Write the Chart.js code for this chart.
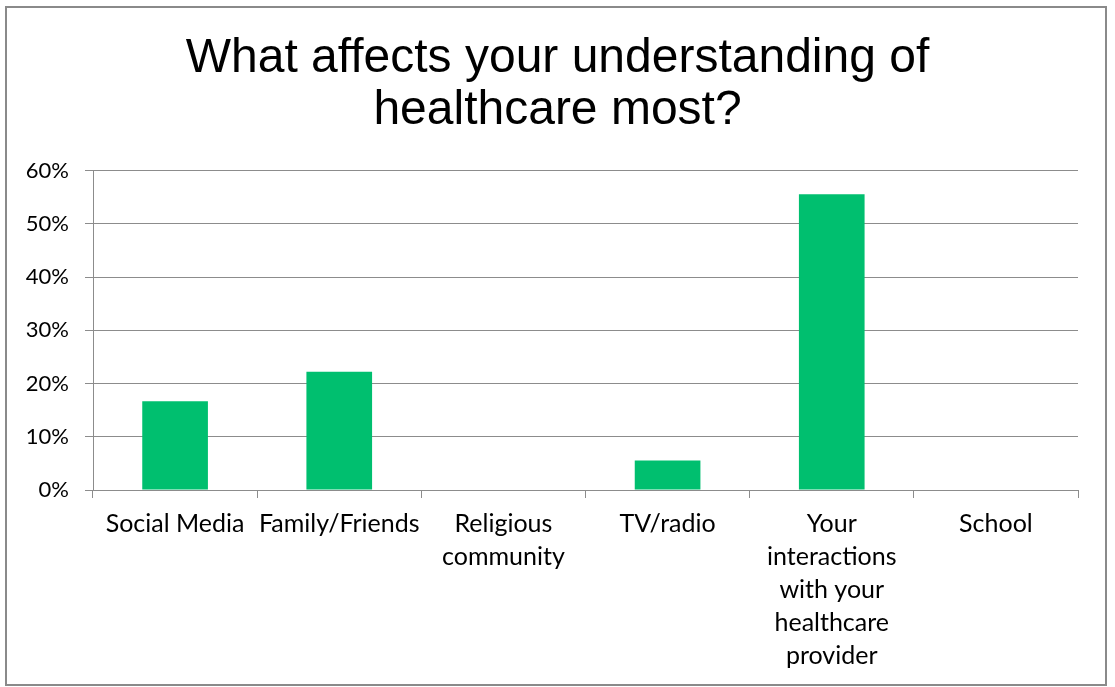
<!DOCTYPE html>
<html lang="en">
<head>
<meta charset="UTF-8">
<title>What affects your understanding of healthcare most?</title>
<style>
  html,body{margin:0;padding:0;background:#fff;}
  .wrap{width:1115px;height:687px;position:relative;}
</style>
</head>
<body>
<div class="wrap">
  <canvas id="chart" width="1115" height="687"></canvas>
</div>

<script src="https://cdn.jsdelivr.net/npm/chart.js@4.4.1"></script>
<script>
/* ---------- data ---------- */
const categories = [
  'Social Media',
  'Family/Friends',
  ['Religious', 'community'],
  'TV/radio',
  ['Your', 'interactions', 'with your', 'healthcare', 'provider'],
  'School'
];
const shares = [16.67, 22.22, 0, 5.56, 55.56, 0];   // percent of answers
const yTicks = [0, 10, 20, 30, 40, 50, 60];

const GREEN = '#00bf6f';
const GRID  = '#8c8c8c';

/* thin grey frame round the whole chart, title centred on the full width */
const framePlugin = {
  id: 'frame',
  afterLayout(chart){
    if (chart.titleBlock){
      chart.titleBlock.left = 0;
      chart.titleBlock.right = chart.width;
    }
  },
  afterDraw(chart){
    const c = chart.ctx;
    c.save();
    c.strokeStyle = '#8a8a8a';
    c.lineWidth = 2;
    c.strokeRect(6, 7, 1100, 678);
    c.restore();
  }
};

new Chart(document.getElementById('chart'), {
  type: 'bar',
  data: {
    labels: categories,
    datasets: [{
      data: shares,
      backgroundColor: GREEN,
      borderWidth: 0,
      categoryPercentage: 1,
      barPercentage: 0.4
    }]
  },
  options: {
    responsive: false,
    animation: false,
    layout: {padding: {left: 0, right: 37, top: 0, bottom: 0}},
    plugins: {
      legend: {display: false},
      tooltip: {enabled: false},
      title: {
        display: true,
        text: ['What affects your understanding of', 'healthcare most?'],
        color: '#000',
        font: {family: '"Liberation Sans", Arial, sans-serif', size: 48, weight: 'normal', lineHeight: 1.08},
        padding: {top: 33, bottom: 34}
      }
    },
    scales: {
      x: {
        grid: {display: true, drawOnChartArea: false, drawTicks: true, tickLength: 8, color: GRID, lineWidth: 1, offset: true},
        border: {display: true, color: GRID, width: 1},
        ticks: {
          color: '#000',
          padding: 9,
          maxRotation: 0,
          autoSkip: false,
          font: {family: 'Lato, "Open Sans", sans-serif', size: 25, lineHeight: 1.32}
        },
        afterFit(scale){ scale.height = 197; }
      },
      y: {
        min: 0,
        max: 60,
        afterBuildTicks(scale){ scale.ticks = yTicks.map(v => ({value: v})); },
        grid: {color: GRID, lineWidth: 1, tickLength: 8},
        border: {display: true, color: GRID, width: 1},
        ticks: {
          color: '#000',
          padding: 16,
          font: {family: 'Lato, "Open Sans", sans-serif', size: 22},
          callback: v => v + '%'
        },
        afterFit(scale){ scale.width = 93; }
      }
    }
  },
  plugins: [framePlugin]
});
</script>
</body>
</html>
